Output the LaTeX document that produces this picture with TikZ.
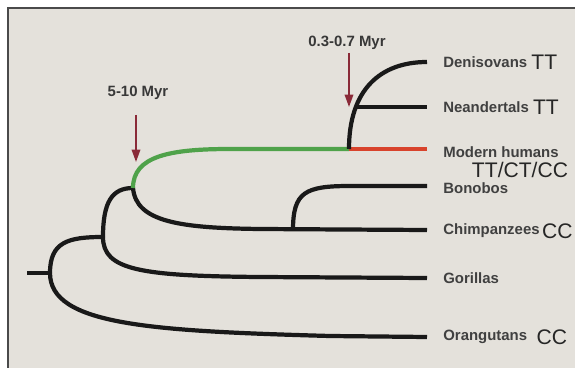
\documentclass[tikz,border=0pt]{standalone}
\usepackage{fontspec}
\setmainfont{Liberation Sans}
\usetikzlibrary{arrows.meta,positioning}
\definecolor{paper}{HTML}{E4E1DB}
\definecolor{frameline}{HTML}{4A4A4A}
\definecolor{stemgreen}{HTML}{4FA24A}
\definecolor{humanred}{HTML}{D8432C}
\definecolor{arrowred}{HTML}{8A2A38}

\begin{document}
\begin{tikzpicture}[x={(0.02cm,0)},y={(0,-0.02cm)},>=Latex,
  branch/.style={line width=2.4pt,black!90},
  taxon/.style={anchor=west,inner sep=0pt,font=\fontsize{8.5}{10}\selectfont\bfseries,text=black!75},
  geno/.style={inner sep=0pt,font=\fontsize{12}{14}\selectfont,text=black!85},
  dating/.style={inner sep=0pt,font=\fontsize{8.5}{10}\selectfont\bfseries,text=black!78},
  marker/.style={-{Triangle[length=7pt,width=4.8pt]},line width=1.1pt,arrowred}]
\useasboundingbox (0,0) rectangle (575,368);
\fill[white] (0,0) rectangle (575,368);
\fill[paper] (8,8) rectangle (575,368);
\draw[frameline,line width=1.2pt] (8,368) -- (8,8) -- (575,8);

% branch points
\coordinate (r0) at (27,273);
\coordinate (n1) at (50,273);
\coordinate (n2) at (103,237);
\coordinate (n3) at (133,188);
\coordinate (nh) at (349,149);
\coordinate (nn) at (355,107);
\coordinate (nb) at (293,230);

% tips
\coordinate (den) at (427,62);
\coordinate (nea) at (427,107);
\coordinate (hum) at (427,149);
\coordinate (bon) at (427,186);
\coordinate (chi) at (427,230);
\coordinate (gor) at (427,278);
\coordinate (ora) at (427,337);

% tree
\draw[branch] (r0) -- (n1);
\draw[branch] (n1) .. controls (50,242) and (68,237) .. (n2);
\draw[branch] (n1) .. controls (50,325) and (150,331) .. (330,336) -- (ora);
\draw[branch] (n2) .. controls (103,202) and (112,188) .. (n3);
\draw[branch] (n2) .. controls (103,270) and (140,276) .. (260,277) -- (gor);
\draw[branch] (n3) .. controls (136,222) and (180,228) .. (260,229) -- (chi);
\draw[branch] (nb) .. controls (293,192) and (305,186) .. (350,186) -- (bon);
\draw[branch,stemgreen] (n3) .. controls (133,156) and (170,149) .. (230,149) -- (nh);
\draw[branch,humanred] (nh) -- (hum);
\draw[branch] (nh) .. controls (349,90) and (380,62) .. (den);
\draw[branch] (nn) -- (nea);

% labels
\node[taxon] (lden) at (443,62) {Denisovans};
\node[taxon] (lnea) at (443,107) {Neandertals};
\node[taxon] (lhum) at (443,152) {Modern humans};
\node[taxon] (lbon) at (443,188) {Bonobos};
\node[taxon] (lchi) at (443,231) {Chimpanzees};
\node[taxon] (lgor) at (443,278) {Gorillas};
\node[taxon] (lora) at (443,337) {Orangutans};
\node[geno,right=2pt of lden] (gden) {TT};
\node[geno,right=2pt of lnea] (gnea) {TT};
\node[geno] (ghum) at (520,170) {TT/CT/CC};
\node[geno,right=1pt of lchi] (gchi) {CC};
\node[geno,right=5pt of lora] (gora) {CC};

% divergence times
\coordinate (a1s) at (136,115);
\coordinate (a1e) at (136,162);
\coordinate (a2s) at (349,53);
\coordinate (a2e) at (349,107);
\draw[marker] (a1s) -- (a1e);
\draw[marker] (a2s) -- (a2e);
\node[dating] (t1) at (138,93) {5-10 Myr};
\node[dating] (t2) at (347,43) {0.3-0.7 Myr};
\end{tikzpicture}
\end{document}
